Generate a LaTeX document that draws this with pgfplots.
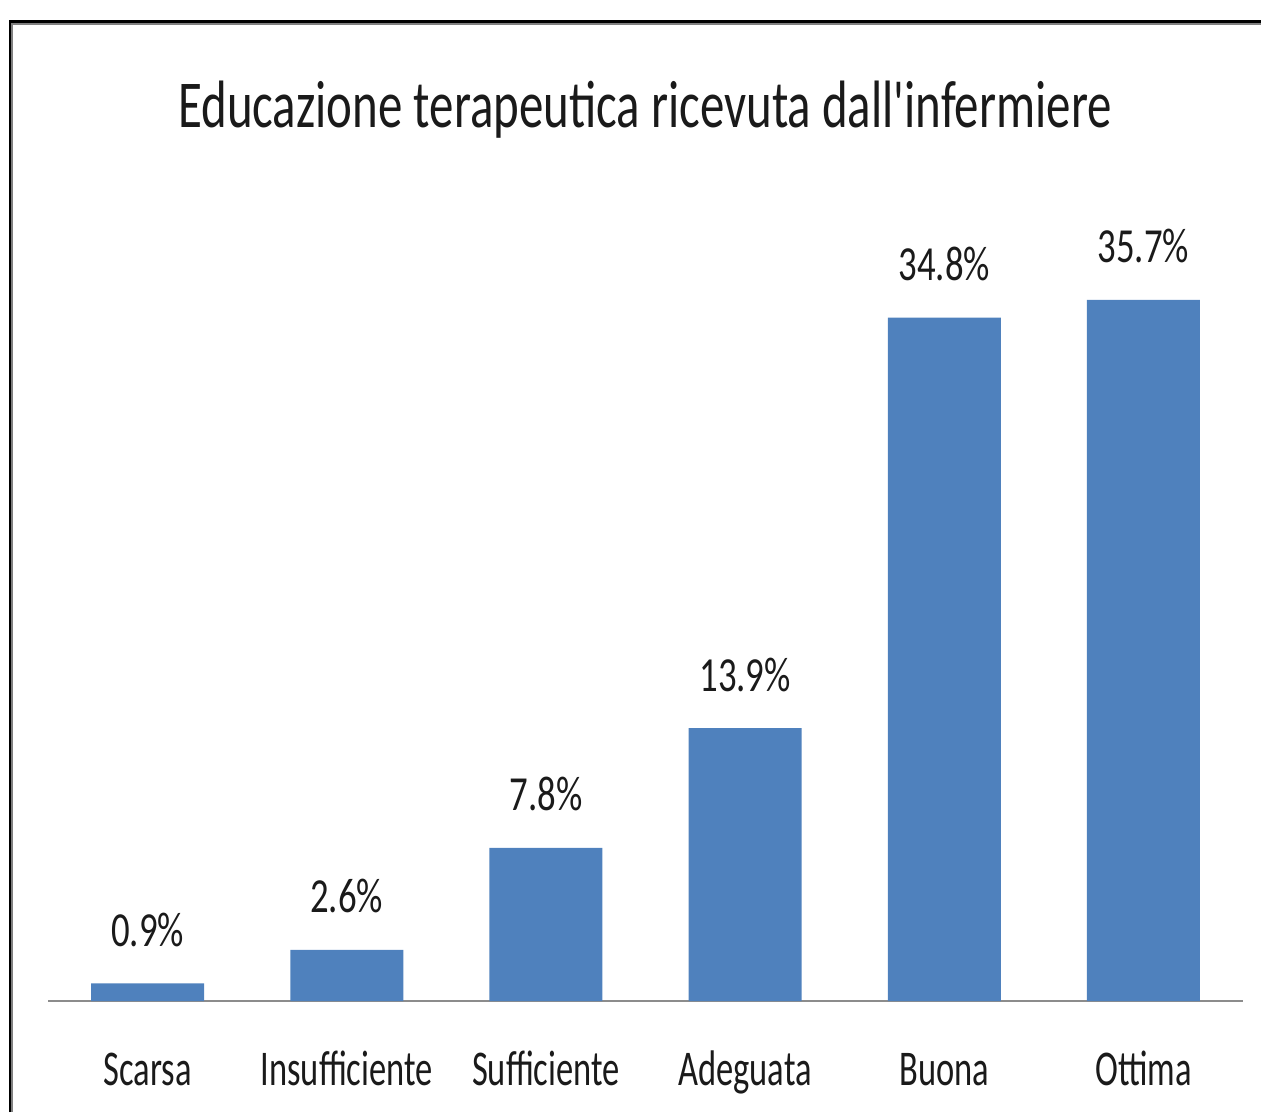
\documentclass[border=0pt]{standalone}
\usepackage{fontspec}
\newfontfamily\titlefont[FakeStretch=0.73]{Carlito}
\newfontfamily\tickfont[FakeStretch=0.69]{Carlito}
\newfontfamily\labfont[FakeStretch=0.75]{Carlito}
\usepackage{pgfplots}
\pgfplotsset{compat=1.18}
\definecolor{barBlue}{HTML}{4F81BD}
\definecolor{axisGray}{HTML}{8C8C8C}
\definecolor{ink}{HTML}{1A1A1A}

\begin{document}
\begin{tikzpicture}[x=1pt,y=1pt]
  % page = 1261x1112 px at 0.5pt per px
  \useasboundingbox (0,0) rectangle (630.5,556);
  % frame of the chart area (only top and left edges visible)
  \draw[black!50, line width=2.2pt] (5.4,0) -- (5.4,544.8) -- (630.5,544.8);
  \draw[black, line width=1.4pt] (5,0) -- (5,545.4) -- (630.5,545.4);
  \node[font=\titlefont\fontsize{33.5pt}{40pt}\selectfont, text=ink]
    at (322.5,501) {Educazione terapeutica ricevuta dall'infermiere};
  \begin{axis}[
      at={(24pt,55.5pt)}, anchor=south west,
      scale only axis,
      width=597.5pt, height=392.8pt,
      xmin=-0.5, xmax=5.5, ymin=0, ymax=40,
      axis x line=bottom, axis y line=none,
      x axis line style={-, axisGray, line width=1pt},
      xtick=data,
      xticklabels={Scarsa,Insufficiente,Sufficiente,Adeguata,Buona,Ottima},
      major tick length=0pt,
      xticklabel style={font=\tickfont\fontsize{25pt}{30pt}\selectfont,
        text=ink, anchor=base, yshift=-42pt},
      ytick=\empty,
      clip=false,
      point meta=explicit symbolic,
      nodes near coords,
      every node near coord/.append style={font=\labfont\fontsize{24.5pt}{30pt}\selectfont,
        text=ink, anchor=base, yshift=18.5pt},
    ]
    \addplot[ybar, bar width=56.5pt, fill=barBlue, draw=none]
      coordinates {
        (0,0.9)  [0.9\%]
        (1,2.6)  [2.6\%]
        (2,7.8)  [7.8\%]
        (3,13.9) [13.9\%]
        (4,34.8) [34.8\%]
        (5,35.7) [35.7\%]
      };
  \end{axis}
\end{tikzpicture}
\end{document}
